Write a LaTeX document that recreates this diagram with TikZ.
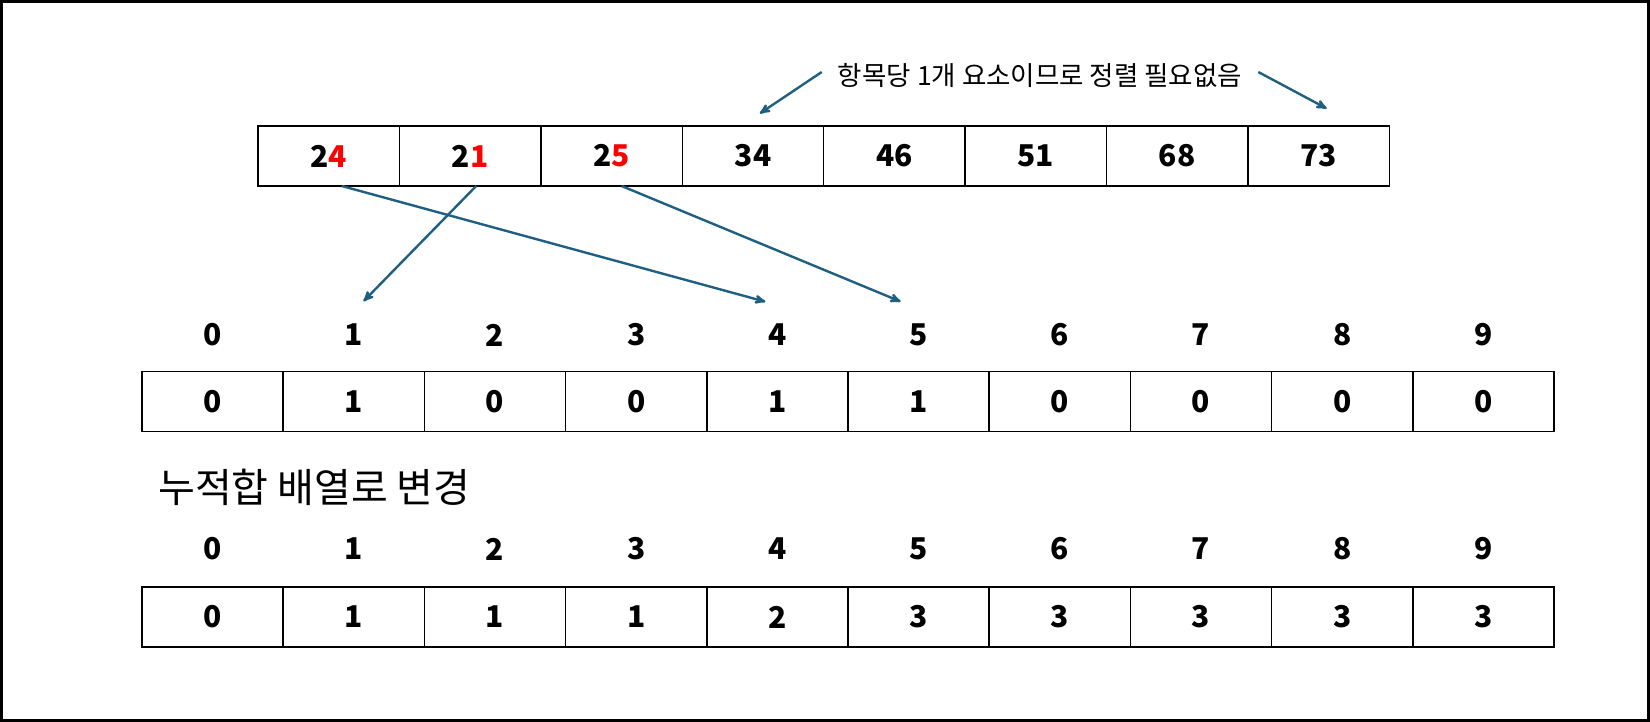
\documentclass[tikz,border=0pt]{standalone}
\usepackage{fontspec}
\setmainfont{Noto Sans CJK KR}
\usepackage{tikz}
\usetikzlibrary{arrows}
\usetikzlibrary{positioning}
\definecolor{linkblue}{RGB}{31,95,130}

\begin{document}
\begin{tikzpicture}[x=1pt,y=1pt,>=stealth',
  cell/.style={draw,line width=1.5pt,minimum width=141.4pt,minimum height=60pt,
    inner sep=0pt,outer sep=0pt,font=\bfseries\fontsize{30}{30}\selectfont},
  idx/.style={inner sep=0pt,font=\bfseries\fontsize{30}{30}\selectfont},
  link/.style={->,draw=linkblue,line width=2.4pt,shorten >=1pt}]

  \useasboundingbox (0,0) rectangle (1650,-722);
  \draw[line width=3pt] (1.5,-1.5) rectangle (1648.5,-720.5);

  % keys to sort
  \node[cell] (k1) at (328.8,-156) {2\textcolor{red}{4}};
  \node[cell,right=0pt of k1] (k2) {2\textcolor{red}{1}};
  \node[cell,right=0pt of k2] (k3) {2\textcolor{red}{5}};
  \node[cell,right=0pt of k3] (k4) {34};
  \node[cell,right=0pt of k4] (k5) {46};
  \node[cell,right=0pt of k5] (k6) {51};
  \node[cell,right=0pt of k6] (k7) {68};
  \node[cell,right=0pt of k7] (k8) {73};

  \node[inner sep=0pt,font=\fontsize{26.5}{26.5}\selectfont] (note) at (1040,-75)
    {항목당 1개 요소이므로 정렬 필요없음};

  % count array
  \foreach \v [count=\i] in {0,1,0,0,1,1,0,0,0,0} {
    \node[cell] (c\i) at ({212.6+141.2*(\i-1)},-401.5) {\v};
    \node[idx] (p\i) at ({212.6+141.2*(\i-1)},-335) {\pgfmathparse{int(\i-1)}\pgfmathresult};
  }

  \node[anchor=west,inner sep=0pt,font=\fontsize{40}{40}\selectfont] (sumlabel) at (158,-487)
    {누적합 배열로 변경};

  % prefix sums
  \foreach \v [count=\i] in {0,1,1,1,2,3,3,3,3,3} {
    \node[cell] (s\i) at ({212.6+141.2*(\i-1)},-617) {\v};
    \node[idx] (q\i) at ({212.6+141.2*(\i-1)},-549) {\pgfmathparse{int(\i-1)}\pgfmathresult};
  }

  \draw[link] ([xshift=13pt]k1.south) -- ([xshift=-11pt,yshift=33pt]p5.center);
  \draw[link] ([xshift=6pt]k2.south) -- ([xshift=9pt,yshift=33pt]p2.center);
  \draw[link] ([xshift=10pt]k3.south) -- ([xshift=-17pt,yshift=33pt]p6.center);
  \draw[link] ([xshift=-16pt,yshift=3pt]note.west) -- ([xshift=6pt,yshift=12pt]k4.north);
  \draw[link] ([xshift=16pt,yshift=3pt]note.east) -- ([xshift=9pt,yshift=17pt]k8.north);
\end{tikzpicture}
\end{document}
